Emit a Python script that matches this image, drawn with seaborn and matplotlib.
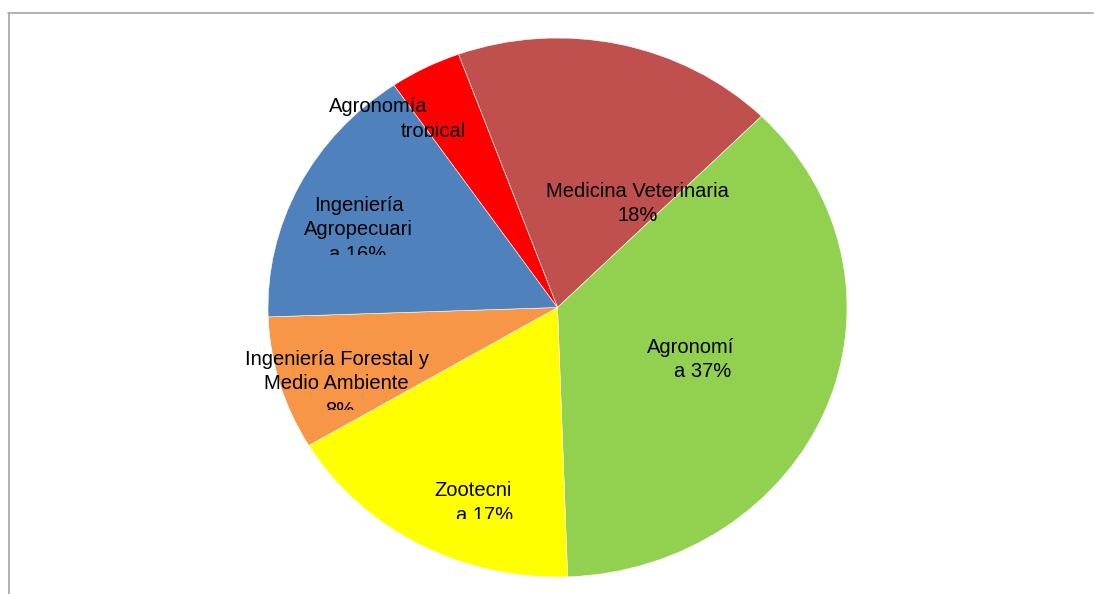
import matplotlib
matplotlib.use("Agg")

import matplotlib.pyplot as plt
import seaborn as sns
from matplotlib.lines import Line2D
from matplotlib.transforms import Bbox, TransformedBbox

# ----------------------------------------------------
# Data
# ----------------------------------------------------
categories = [
    "Medicina Veterinaria",
    "Agronomía",
    "Zootecnia",
    "Ingeniería Forestal y Medio Ambiente",
    "Ingeniería Agropecuaria",
    "Agronomía tropical",
]
shares = [18, 37, 17, 8, 16, 4]
colors = ["#C0504D", "#92D050", "#FFFF00", "#F79646", "#4F81BD", "#FF0000"]

# wrapped label lines as they appear in the (clipped) data-label boxes
label_lines = [
    ["Medicina Veterinaria", "18%"],
    ["Agronomí", "a 37%"],
    ["Zootecni", "a 17%"],
    ["Ingeniería Forestal y", "Medio Ambiente", "8%"],
    ["Ingeniería", "Agropecuari", "a 16%"],
    ["Agronomía", "tropical"],
]

W, H = 1094, 594
sns.set_style("white")
plt.rcParams["font.family"] = ["Liberation Sans", "DejaVu Sans"]

fig = plt.figure(figsize=(W / 100, H / 100), dpi=100)
fig.patch.set_facecolor("white")

# pie area (slightly wider than tall, like the original)
ax = fig.add_axes([268 / W, 17 / H, 579 / W, 539 / H])
ax.pie(
    shares,
    colors=colors,
    startangle=110,
    counterclock=False,
    wedgeprops={"edgecolor": "white", "linewidth": 0.4},
)
ax.set_aspect("auto")
ax.set_xlim(-1, 1)
ax.set_ylim(-1, 1)
ax.axis("off")


def px_to_data(px, py):
    return (px - 557.5) / 289.5, (307.5 - py) / 269.5


# label placement in pixel space: (center x, baseline y) per line, clip bottom
label_pos = [
    ([(637.5, 197), (637.5, 221)], None),
    ([(690.5, 353), (702.5, 377)], None),
    ([(473.5, 496), (484.5, 521)], 519),
    ([(337, 365), (336, 389), (340, 416)], 410),
    ([(359, 211), (358.5, 235), (358, 260)], 255),
    ([(378.5, 112), (433, 137)], 137),
]

for lines, (pos, clip_y) in zip(label_lines, label_pos):
    for text, (px, py) in zip(lines, pos):
        x, y = px_to_data(px, py)
        t = ax.text(x, y, text, ha="center", va="baseline",
                    fontsize=14.5, color="black")
        if clip_y is not None:
            box = Bbox.from_extents(0, (H - clip_y) / H, 1, 1)
            t.set_clip_box(TransformedBbox(box, fig.transFigure))
            t.set_clip_on(True)

# chart frame (top and left edges visible)
frame_color = "#A6A6A6"
fig.add_artist(Line2D([8 / W, 1093 / W], [1 - 12.5 / H, 1 - 12.5 / H],
                      transform=fig.transFigure, color=frame_color, linewidth=1.2))
fig.add_artist(Line2D([8.5 / W, 8.5 / W], [0, 1 - 12.5 / H],
                      transform=fig.transFigure, color=frame_color, linewidth=1.2))

fig.savefig("out.png", dpi=100, facecolor="white")
